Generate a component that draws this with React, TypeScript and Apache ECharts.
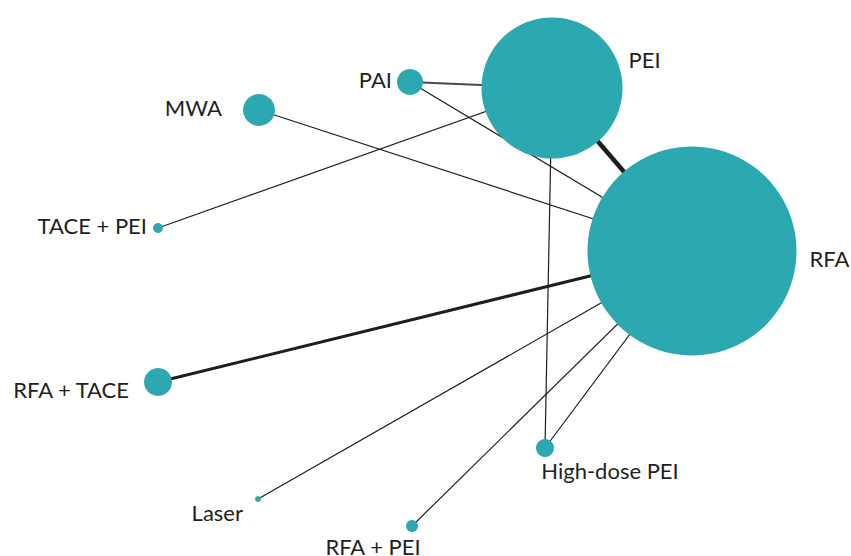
import React, { useEffect, useRef } from "react";
import * as echarts from "echarts";

const nodeNames = ["PEI", "RFA", "PAI", "MWA", "TACE + PEI", "RFA + TACE", "Laser", "RFA + PEI", "High-dose PEI"];
const nodeX = [552, 692, 410, 259, 158, 158, 258, 412, 545];
const nodeY = [88, 251, 82, 110, 228, 382, 499, 526, 448];
const nodeDiameter = [141, 209, 26, 32, 10, 28, 6, 12, 18];

const linkSource = ["PAI", "PAI", "MWA", "TACE + PEI", "PEI", "RFA + TACE", "PEI", "RFA", "RFA", "RFA"];
const linkTarget = ["PEI", "RFA", "RFA", "PEI", "RFA", "RFA", "High-dose PEI", "High-dose PEI", "Laser", "RFA + PEI"];
const linkWidth = [2, 1.2, 1.2, 1.2, 4.5, 3, 1.2, 1.2, 1.2, 1.2];

type LabelCfg = { position: string; distance: number; offset: [number, number] };
const labelCfg: LabelCfg[] = [
  { position: "right", distance: 6, offset: [0, -29] },
  { position: "right", distance: 13, offset: [0, 7] },
  { position: "left", distance: 5, offset: [0, -3] },
  { position: "left", distance: 21, offset: [0, -3] },
  { position: "left", distance: 6, offset: [0, -3] },
  { position: "left", distance: 15, offset: [0, 7] },
  { position: "left", distance: 12, offset: [0, 13] },
  { position: "bottom", distance: 3, offset: [-39, 0] },
  { position: "bottom", distance: 2, offset: [65, 0] },
];

export default function App() {
  const ref = useRef<HTMLDivElement>(null);
  useEffect(() => {
    document.body.style.margin = "0";
    const chart = echarts.init(ref.current!, null, { renderer: "svg" });
    const data = nodeNames.map((n, i) => ({
      name: n,
      value: [nodeX[i], nodeY[i]],
      symbolSize: nodeDiameter[i],
      label: {
        show: true,
        position: labelCfg[i].position,
        distance: labelCfg[i].distance,
        offset: labelCfg[i].offset,
      },
    }));
    const links = linkSource.map((s, i) => ({
      source: s,
      target: linkTarget[i],
      lineStyle: {
        width: linkWidth[i],
        color: i === 0 ? "#4a4a4a" : "#1e1e1e",
      },
    }));
    chart.setOption({
      animation: false,
      grid: { left: 0, right: 0, top: 0, bottom: 0 },
      xAxis: { type: "value", min: 0, max: 851, show: false },
      yAxis: { type: "value", min: 0, max: 556, inverse: true, show: false },
      series: [
        {
          type: "graph",
          coordinateSystem: "cartesian2d",
          layout: "none",
          symbol: "circle",
          itemStyle: { color: "#2ba8b0" },
          label: {
            color: "#231f20",
            fontFamily: "Lato",
            fontSize: 22,
          },
          lineStyle: { opacity: 1, curveness: 0 },
          emphasis: { disabled: true },
          data,
          links,
        },
      ],
    });
    return () => chart.dispose();
  }, []);
  return <div ref={ref} style={{ width: 851, height: 556 }} />;
}
